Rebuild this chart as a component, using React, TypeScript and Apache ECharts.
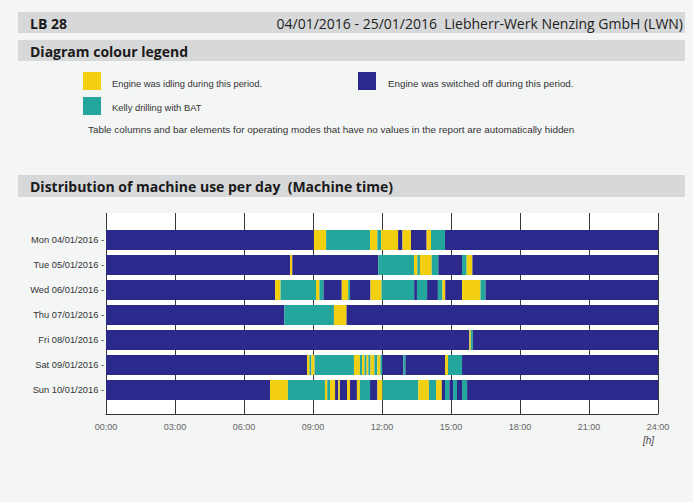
import React, { useEffect, useRef } from "react";
import * as echarts from "echarts";

const days = [
  "Mon 04/01/2016",
  "Tue 05/01/2016",
  "Wed 06/01/2016",
  "Thu 07/01/2016",
  "Fri 08/01/2016",
  "Sat 09/01/2016",
  "Sun 10/01/2016",
];

// O = engine off, I = idling, K = Kelly drilling with BAT
const monBreaks = [0, 9.04, 9.57, 11.48, 11.8, 11.96, 12.7, 12.89, 13.26, 13.94, 14.13, 14.74, 24];
const monModes = ["O", "I", "K", "I", "K", "I", "O", "I", "O", "I", "K", "O"];

const tueBreaks = [0, 8.0, 8.1, 11.84, 13.39, 13.54, 13.65, 14.16, 14.45, 15.48, 15.68, 15.93, 24];
const tueModes = ["O", "I", "O", "K", "I", "K", "I", "K", "O", "K", "I", "O"];

const wedBreaks = [0, 7.35, 7.59, 9.13, 9.28, 9.46, 10.25, 10.53, 10.61, 11.5, 11.98, 13.4, 13.52, 13.96, 14.43, 14.63, 14.75, 15.48, 16.28, 16.5, 24];
const wedModes = ["O", "I", "K", "I", "K", "O", "I", "K", "O", "I", "K", "O", "K", "O", "K", "I", "O", "I", "K", "O"];

const thuBreaks = [0, 7.75, 9.91, 10.46, 24];
const thuModes = ["O", "K", "I", "O"];

const friBreaks = [0, 15.8, 15.86, 15.95, 24];
const friModes = ["O", "I", "K", "O"];

const satBreaks = [0, 8.74, 8.85, 8.93, 9.07, 10.78, 11.04, 11.13, 11.24, 11.33, 11.41, 11.5, 11.67, 11.8, 11.93, 12.02, 12.93, 13.02, 14.74, 14.87, 15.48, 24];
const satModes = ["O", "I", "K", "I", "K", "I", "K", "I", "K", "I", "K", "I", "K", "I", "K", "O", "K", "O", "I", "K", "O"];

const sunBreaks = [0, 7.13, 7.91, 9.52, 9.62, 9.74, 9.96, 10.1, 10.17, 10.48, 10.61, 10.91, 11.04, 11.48, 11.8, 12.02, 13.58, 14.04, 14.35, 14.6, 14.74, 14.93, 15.09, 15.26, 15.48, 15.7, 24];
const sunModes = ["O", "I", "K", "I", "K", "I", "O", "I", "O", "I", "O", "I", "K", "O", "I", "K", "I", "K", "I", "O", "K", "O", "K", "O", "K", "O"];

const hourTicks = ["00:00", "03:00", "06:00", "09:00", "12:00", "15:00", "18:00", "21:00", "24:00"];

const dayBreaks = [monBreaks, tueBreaks, wedBreaks, thuBreaks, friBreaks, satBreaks, sunBreaks];
const dayModes = [monModes, tueModes, wedModes, thuModes, friModes, satModes, sunModes];

const modeColors: Record<string, string> = {
  O: "#2b2a8c",
  I: "#f3cf12",
  K: "#23a69b",
};

export default function App() {
  const ref = useRef<HTMLDivElement>(null);

  useEffect(() => {
    if (!ref.current) return;
    const chart = echarts.init(ref.current, null, { renderer: "svg" });

    const segs: any[] = [];
    dayBreaks.forEach((br, row) => {
      const modes = dayModes[row];
      for (let i = 0; i < modes.length; i++) {
        segs.push({ value: [br[i], br[i + 1], row], mode: modes[i] });
      }
    });

    const headerFont = '"Open Sans", "DejaVu Sans", sans-serif';
    const smallFont = '"Liberation Sans", Arial, sans-serif';

    const option: any = {
      animation: false,
      backgroundColor: "#f4f5f5",
      grid: [
        { left: 106, right: 35, top: 213, bottom: 88, show: true, backgroundColor: "#ffffff", borderWidth: 0 },
        { left: 106, right: 35, top: 227.5, height: 175, show: false },
      ],
      xAxis: [
        {
          gridIndex: 0,
          type: "value",
          min: 0,
          max: 24,
          interval: 3,
          axisLine: { show: true, onZero: false, lineStyle: { color: "#333", width: 1.2 } },
          axisTick: { show: false },
          splitLine: { show: true, lineStyle: { color: "#3a3a3a", width: 1 } },
          axisLabel: {
            margin: 8,
            color: "#666",
            fontSize: 9,
            fontFamily: smallFont,
            formatter: (v: number) => hourTicks[Math.round(v / 3)] ?? "",
          },
        },
        {
          gridIndex: 1,
          type: "value",
          min: 0,
          max: 24,
          show: false,
        },
      ],
      yAxis: [
        { gridIndex: 0, type: "value", show: false, min: 0, max: 1 },
        {
          gridIndex: 1,
          type: "category",
          data: days,
          inverse: true,
          axisLine: { show: false },
          axisTick: { show: false },
          splitLine: { show: false },
          axisLabel: {
            margin: 2,
            color: "#333",
            fontSize: 9.3,
            fontFamily: smallFont,
            formatter: (v: string) => v + " -",
          },
        },
      ],
      series: [
        {
          type: "custom",
          xAxisIndex: 1,
          yAxisIndex: 1,
          data: segs,
          encode: { x: [0, 1], y: 2 },
          renderItem: (params: any, api: any) => {
            const row = api.value(2);
            const s = api.coord([api.value(0), row]);
            const e = api.coord([api.value(1), row]);
            const h = api.size([0, 1])[1] * 0.8;
            const mode = segs[params.dataIndex].mode;
            return {
              type: "rect",
              shape: { x: s[0], y: s[1] - h / 2, width: Math.max(e[0] - s[0], 0.8), height: h },
              style: { fill: modeColors[mode] },
            };
          },
        },
      ],
      graphic: [
        { type: "rect", shape: { x: 18, y: 12, width: 667, height: 21 }, style: { fill: "#d7d8d9" } },
        {
          type: "text",
          style: { text: "LB 28", x: 30, y: 23, textVerticalAlign: "middle", font: `bold 14px ${headerFont}`, fill: "#1a1a1a" },
        },
        {
          type: "text",
          style: {
            text: "04/01/2016 - 25/01/2016  Liebherr-Werk Nenzing GmbH (LWN)",
            x: 683,
            y: 23,
            textAlign: "right",
            textVerticalAlign: "middle",
            font: `14px ${headerFont}`,
            fill: "#222",
          },
        },
        { type: "rect", shape: { x: 18, y: 40, width: 667, height: 21 }, style: { fill: "#d7d8d9" } },
        {
          type: "text",
          style: { text: "Diagram colour legend", x: 30, y: 51, textVerticalAlign: "middle", font: `bold 14px ${headerFont}`, fill: "#1a1a1a" },
        },
        { type: "rect", shape: { x: 83, y: 72, width: 18, height: 18 }, style: { fill: modeColors.I } },
        {
          type: "text",
          style: { text: "Engine was idling during this period.", x: 112, y: 83, textVerticalAlign: "middle", font: `9.4px ${smallFont}`, fill: "#333" },
        },
        { type: "rect", shape: { x: 83, y: 97, width: 18, height: 18 }, style: { fill: modeColors.K } },
        {
          type: "text",
          style: { text: "Kelly drilling with BAT", x: 112, y: 107, textVerticalAlign: "middle", font: `9.4px ${smallFont}`, fill: "#333" },
        },
        { type: "rect", shape: { x: 358, y: 72, width: 18, height: 18 }, style: { fill: modeColors.O } },
        {
          type: "text",
          style: { text: "Engine was switched off during this period.", x: 388, y: 83, textVerticalAlign: "middle", font: `9.8px ${smallFont}`, fill: "#333" },
        },
        {
          type: "text",
          style: {
            text: "Table columns and bar elements for operating modes that have no values in the report are automatically hidden",
            x: 88,
            y: 129,
            textVerticalAlign: "middle",
            font: `9.9px ${smallFont}`,
            fill: "#333",
          },
        },
        { type: "rect", shape: { x: 18, y: 175, width: 667, height: 22 }, style: { fill: "#d7d8d9" } },
        {
          type: "text",
          style: {
            text: "Distribution of machine use per day  (Machine time)",
            x: 30,
            y: 186,
            textVerticalAlign: "middle",
            font: `bold 14px ${headerFont}`,
            fill: "#1a1a1a",
          },
        },
        {
          type: "text",
          style: { text: "[h]", x: 643, y: 440, textVerticalAlign: "middle", font: `italic 10px ${smallFont}`, fill: "#444" },
        },
      ],
    };

    chart.setOption(option);
    return () => chart.dispose();
  }, []);

  return <div ref={ref} style={{ position: "fixed", left: 0, top: 0, width: 693, height: 502 }} />;
}
